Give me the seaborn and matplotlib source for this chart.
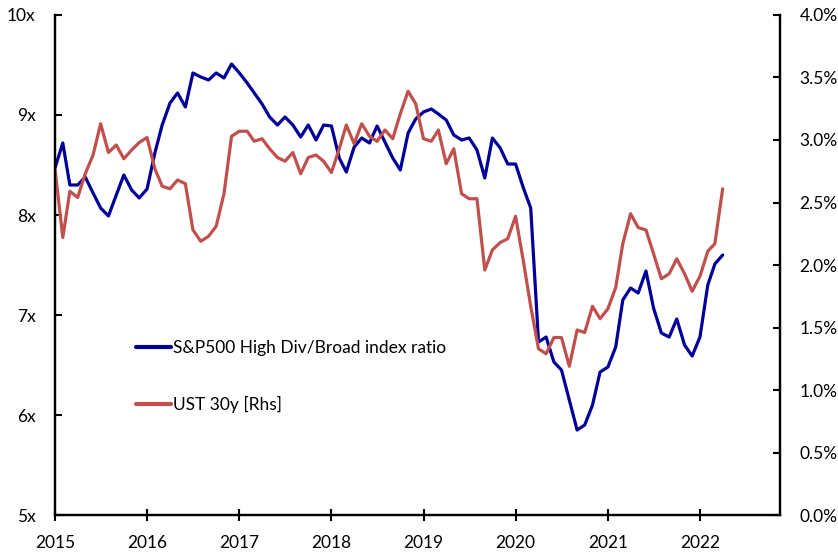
import pandas as pd
import numpy as np
import matplotlib
matplotlib.use('Agg')
import matplotlib.pyplot as plt
import matplotlib.dates as mdates
import seaborn as sns
from matplotlib.lines import Line2D
from matplotlib.ticker import FuncFormatter, MultipleLocator

# monthly data, Jan 2015 - Apr 2022
ratio = [8.47, 8.72, 8.30, 8.30, 8.38, 8.22, 8.07, 7.99, 8.20, 8.40, 8.25, 8.17,
         8.26, 8.62, 8.90, 9.12, 9.22, 9.08, 9.42, 9.38, 9.35, 9.42, 9.37, 9.51,
         9.42, 9.32, 9.22, 9.11, 8.98, 8.90, 8.98, 8.90, 8.78, 8.90, 8.75, 8.90,
         8.89, 8.57, 8.43, 8.68, 8.77, 8.72, 8.89, 8.73, 8.57, 8.45, 8.82, 8.96,
         9.03, 9.06, 9.01, 8.95, 8.80, 8.75, 8.77, 8.65, 8.37, 8.77, 8.67, 8.51,
         8.51, 8.27, 8.07, 6.73, 6.78, 6.53, 6.45, 6.15, 5.85, 5.90, 6.10, 6.43,
         6.48, 6.68, 7.15, 7.27, 7.22, 7.44, 7.07, 6.82, 6.78, 6.96, 6.70, 6.59,
         6.78, 7.30, 7.51, 7.60]
ust30 = [2.77, 2.22, 2.59, 2.54, 2.73, 2.88, 3.13, 2.90, 2.96, 2.85, 2.92, 2.98,
         3.02, 2.77, 2.63, 2.61, 2.68, 2.65, 2.28, 2.19, 2.23, 2.31, 2.57, 3.03,
         3.07, 3.07, 2.99, 3.01, 2.93, 2.86, 2.83, 2.90, 2.73, 2.86, 2.88, 2.83,
         2.74, 2.93, 3.12, 2.97, 3.13, 3.03, 2.99, 3.08, 3.01, 3.21, 3.39, 3.29,
         3.01, 2.99, 3.08, 2.81, 2.93, 2.57, 2.53, 2.53, 1.96, 2.12, 2.18, 2.21,
         2.39, 2.03, 1.67, 1.33, 1.29, 1.42, 1.42, 1.19, 1.48, 1.46, 1.67, 1.57,
         1.65, 1.82, 2.17, 2.41, 2.30, 2.28, 2.09, 1.89, 1.93, 2.05, 1.93, 1.79,
         1.91, 2.11, 2.17, 2.61]
dates = pd.date_range('2015-01-01', periods = len(ratio), freq = 'MS')

df = pd.DataFrame({'date': dates, 'ratio': ratio, 'ust30': ust30})

blue = '#000099'
red = '#C0504D'

sns.set_style('white')
plt.rcParams['font.family'] = ['Lato', 'DejaVu Sans']
plt.rcParams['text.color'] = 'black'
font_size = 12.5

fig, ax = plt.subplots(figsize = (8.38, 5.55), dpi = 100)
fig.subplots_adjust(left = 0.0656, right = 0.931, bottom = 0.072, top = 0.973)
ax2 = ax.twinx()

sns.lineplot(data = df, x = 'date', y = 'ratio', ax = ax, color = blue, linewidth = 2.3)
sns.lineplot(data = df, x = 'date', y = 'ust30', ax = ax2, color = red, linewidth = 2.3)

# axes limits and ticks
ax.set_ylim(5, 10)
ax2.set_ylim(0, 4)
ax.set_xlim(pd.Timestamp('2015-01-01'), pd.Timestamp('2022-11-15'))
ax.yaxis.set_major_locator(MultipleLocator(1))
ax2.yaxis.set_major_locator(MultipleLocator(0.5))
ax.yaxis.set_major_formatter(FuncFormatter(lambda v, p: f'{v:.0f}x'))
ax2.yaxis.set_major_formatter(FuncFormatter(lambda v, p: f'{v:.1f}%'))
ax.xaxis.set_major_locator(mdates.YearLocator())
ax.xaxis.set_major_formatter(mdates.DateFormatter('%Y'))

ax.set_xlabel('')
ax.set_ylabel('')
ax2.set_ylabel('')

ax.tick_params(axis = 'x', direction = 'inout', length = 9, width = 1.5, color = 'black',
               labelcolor = 'black', labelsize = font_size, pad = 10, bottom = True)
ax.tick_params(axis = 'y', direction = 'in', length = 5, width = 1.5, color = 'black',
               labelcolor = 'black', labelsize = font_size, pad = 14, left = True)
ax2.tick_params(axis = 'y', direction = 'in', length = 5, width = 1.5, color = 'black',
                labelcolor = 'black', labelsize = font_size, pad = 14, right = True)

for a in [ax, ax2]:
    a.spines['top'].set_visible(False)
    for s in ['left', 'right', 'bottom']:
        a.spines[s].set_linewidth(1.6)
        a.spines[s].set_color('black')
    a.grid(False)

# legend
custom_legend = [Line2D([0], [0], color = blue, lw = 3),
                 Line2D([0], [0], color = red, lw = 3)]
ax.legend(custom_legend, ['S&P500 High Div/Broad index ratio', 'UST 30y [Rhs]'],
          loc = 'center left', bbox_to_anchor = (0.112, 0.277), frameon = False,
          fontsize = font_size, handlelength = 2.0, handletextpad = 0.1,
          labelspacing = 2.3, borderpad = 0, borderaxespad = 0, labelcolor = 'black')

plt.savefig('out.png')
